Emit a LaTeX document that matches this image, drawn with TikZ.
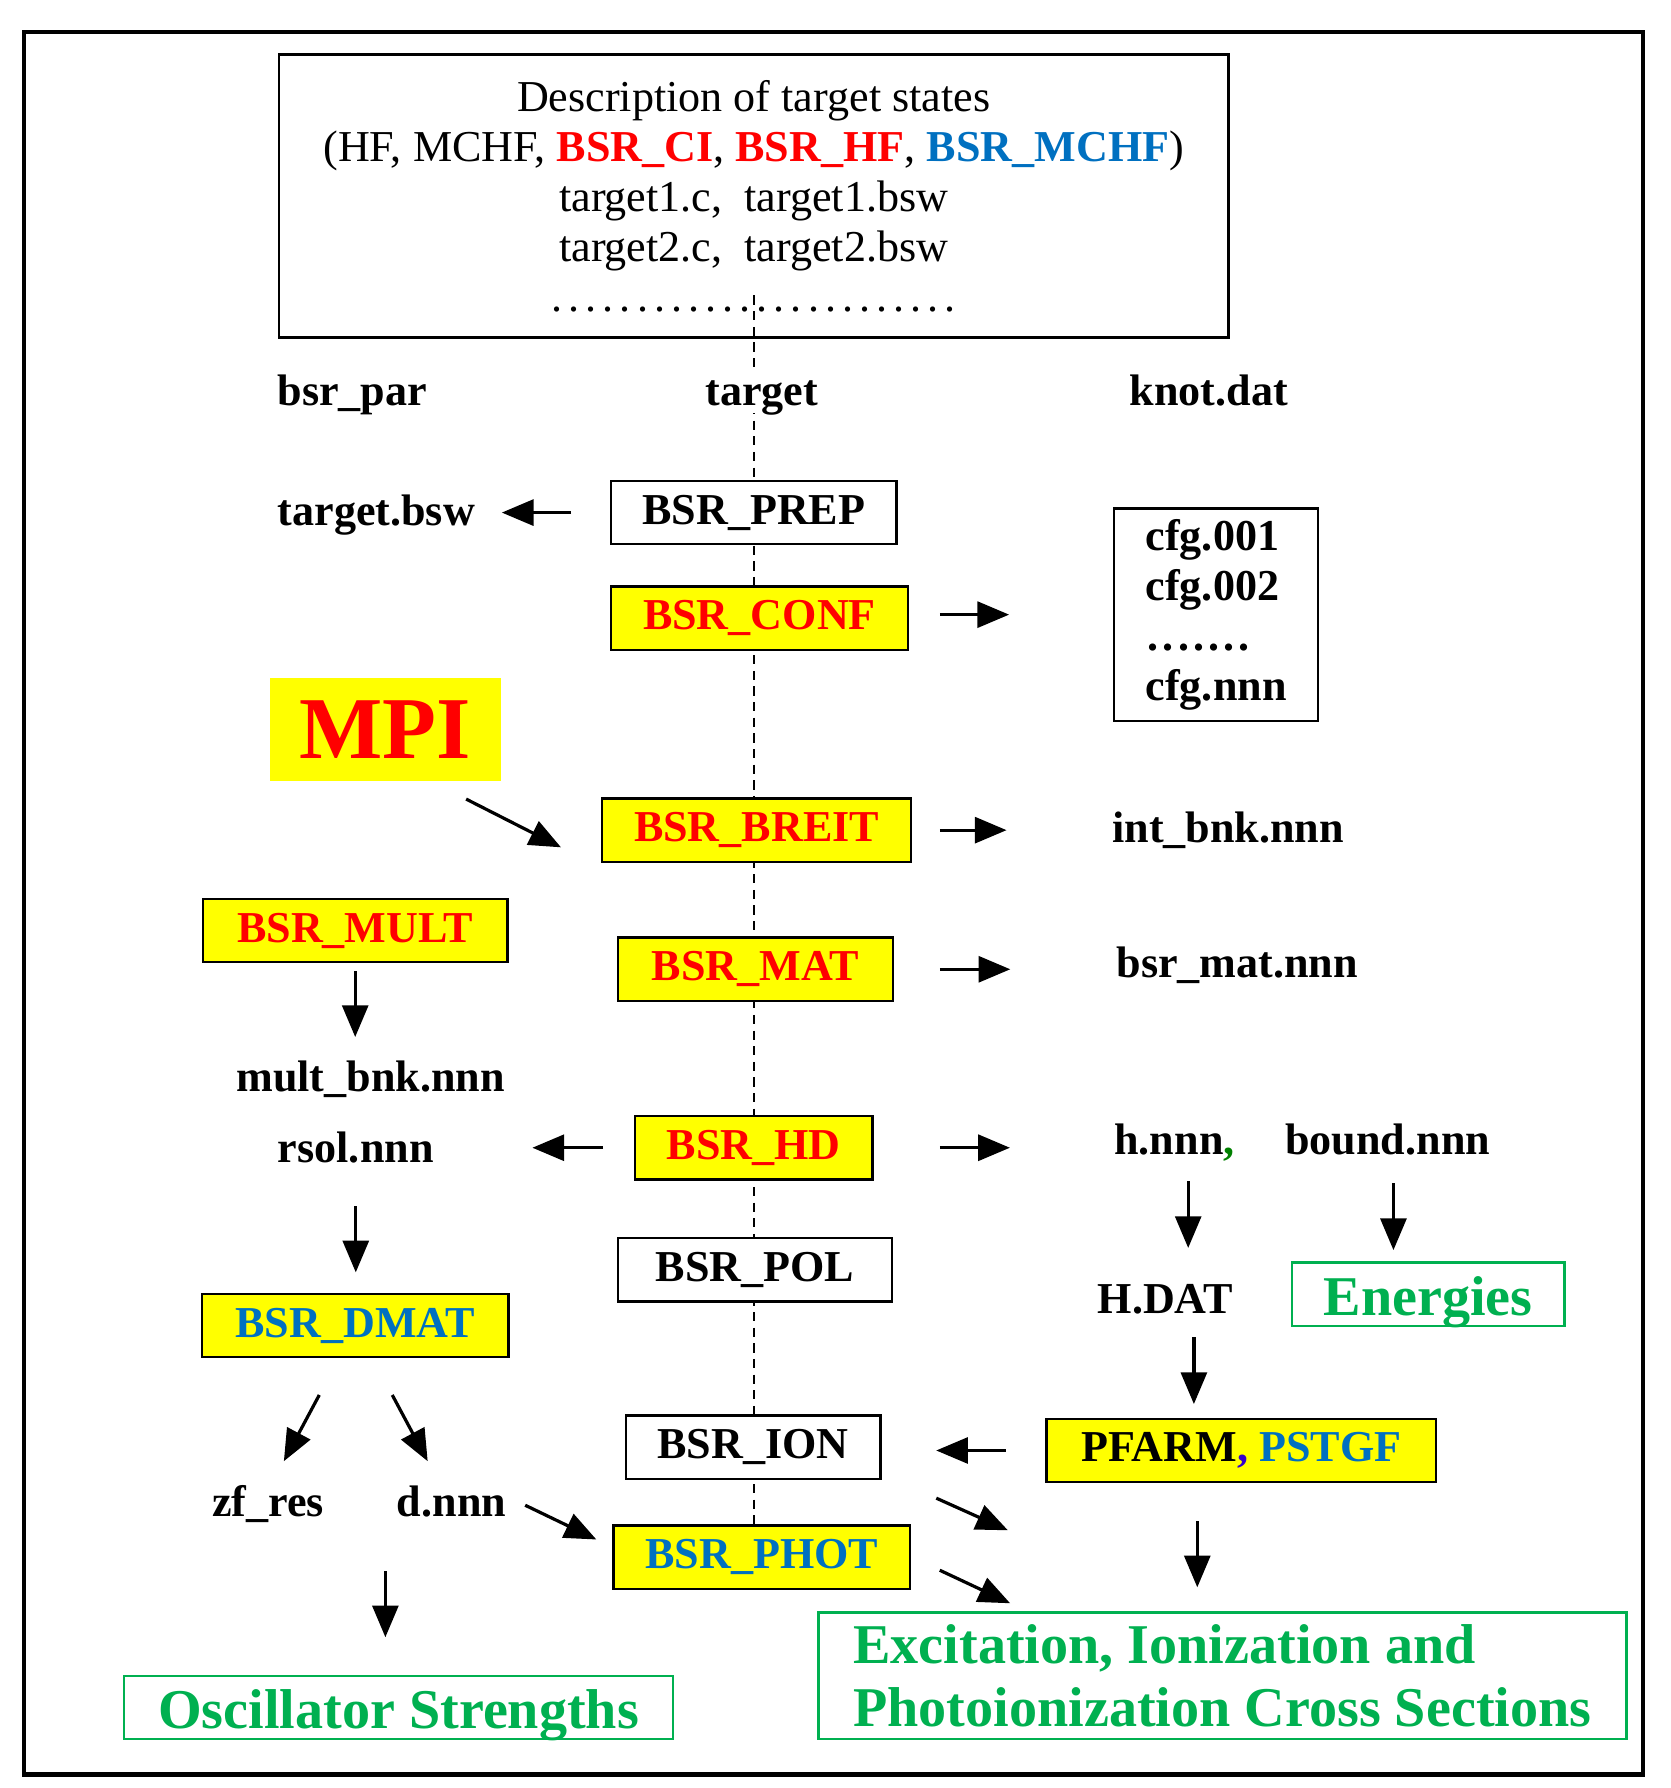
\documentclass[tikz,border=0pt]{standalone}
\usepackage{fontspec}
\setmainfont{Liberation Serif}
\usepackage{xcolor}
\usepackage{tikz}
\usetikzlibrary{shapes.geometric, arrows}
\usetikzlibrary{positioning}
\usetikzlibrary{backgrounds}
\definecolor{bsrred}{RGB}{255,0,0}
\definecolor{bsrblue}{RGB}{0,112,192}
\definecolor{resgreen}{RGB}{0,176,80}
\definecolor{commagreen}{RGB}{0,128,0}
\definecolor{commapurple}{RGB}{51,0,204}
\definecolor{boxyellow}{RGB}{255,255,0}
\newcommand{\boxfont}{\fontsize{11}{12.5}\selectfont}
\newcommand{\dotrun}[2]{\makebox[#1][l]{\xleaders\hbox to #2{\hss.\hss}\hfill}}
\tikzstyle{prog} = [rectangle, draw=black, line width=0.6pt, 
    fill=boxyellow, text=bsrred, font=\boxfont\bfseries, 
    minimum height=0.555cm, inner sep=0pt]
\tikzstyle{whitebox} = [prog, fill=white, text=black]
\tikzstyle{fname} = [font=\boxfont\bfseries, inner sep=0pt, 
    text height=0.27cm, text depth=0cm]
\tikzstyle{resbox} = [rectangle, draw=resgreen, line width=0.6pt, 
    text=resgreen, font=\fontsize{14}{15.6}\selectfont\bfseries, 
    minimum height=0.555cm, inner sep=0pt]
\tikzstyle{arrow} = [line width=0.8pt,->,>=triangle 45]
\tikzstyle{dashline} = [line width=0.45pt, dash pattern=on 2.3pt off 1.6pt]
\begin{document}
\begin{tikzpicture}[x=0.01cm, y=-0.01cm]
    \useasboundingbox (0,0) rectangle (1465,1568);
    \draw [line width=1.1pt] (21,28) rectangle (1441,1556);
    \node [rectangle, draw, line width=0.6pt, minimum width=8.32cm, 
        minimum height=2.48cm, align=center, font=\boxfont, inner sep=0pt] (desc) at (661,172) 
        {Description of target states\\
        (HF, MCHF, \textcolor{bsrred}{\textbf{BSR\_CI}}, \textcolor{bsrred}{\textbf{BSR\_HF}}, \textcolor{bsrblue}{\textbf{BSR\_MCHF}})\\
        target1.c,\ \ target1.bsw\\
        target2.c,\ \ target2.bsw\\
        \dotrun{3.6cm}{0.145cm}};
    \node [fname] (bsrpar) at (309,342) {bsr\_par};
    \node [fname, fill=white, inner sep=2pt] (target) at (668,342) {target};
    \node [fname] (knot) at (1060,342) {knot.dat};
    \node [fname] (tbsw) at (330,447) {target.bsw};
    \node [whitebox, minimum width=2.5cm] (prep) at (661,449.5) {BSR\_PREP};
    \node [prog, minimum width=2.6cm] (conf) at (666,542) {BSR\_CONF};
    \node [rectangle, draw, line width=0.6pt, minimum width=1.79cm, minimum height=1.86cm, 
        align=left, font=\boxfont\bfseries, inner sep=0pt] (cfg) at (1066.5,539) 
        {cfg.001\\cfg.002\\\dotrun{0.93cm}{0.13cm}\\cfg.nnn};
    \node [rectangle, fill=boxyellow, minimum width=2.02cm, minimum height=0.9cm, text=bsrred, 
        font=\fontsize{22}{24}\selectfont\bfseries, inner sep=0pt] (mpi) at (338,640) {MPI};
    \node [prog, minimum width=2.71cm] (breit) at (663.5,728) {BSR\_BREIT};
    \node [fname] (intbnk) at (1077,725) {int\_bnk.nnn};
    \node [prog, minimum width=2.67cm] (mult) at (311.5,816) {BSR\_MULT};
    \node [prog, minimum width=2.41cm] (mat) at (662.5,850) {BSR\_MAT};
    \node [fname] (bsrmat) at (1085,844) {bsr\_mat.nnn};
    \node [fname] (multbnk) at (325,944) {mult\_bnk.nnn};
    \node [fname] (rsol) at (312,1006) {rsol.nnn};
    \node [prog, minimum width=2.08cm] (hd) at (661,1006.5) {BSR\_HD};
    \node [fname] (hnnn) at (1030,999) {h.nnn\textcolor{commagreen}{,}};
    \node [fname] (bound) at (1217,999) {bound.nnn};
    \node [whitebox, minimum width=2.4cm] (pol) at (662,1113.5) {BSR\_POL};
    \node [fname] (hdat) at (1022,1138) {H.DAT};
    \node [resbox, minimum width=2.39cm, text height=0.37cm, text depth=0cm] (energies) at (1252.5,1135) {Energies};
    \node [prog, minimum width=2.69cm, text=bsrblue] (dmat) at (311.5,1162.5) {BSR\_DMAT};
    \node [whitebox, minimum width=2.23cm] (ion) at (660.5,1269) {BSR\_ION};
    \node [prog, minimum width=3.41cm, text=black] (pfarm) at (1088.5,1272) 
        {PFARM\textcolor{commapurple}{,} \textcolor{bsrblue}{PSTGF}};
    \node [fname] (zfres) at (235,1316) {zf\_res};
    \node [fname] (dnnn) at (396,1316) {d.nnn};
    \node [prog, minimum width=2.6cm, text=bsrblue] (phot) at (668,1365.5) {BSR\_PHOT};
    \node [resbox, minimum width=4.81cm, text height=0.37cm, text depth=0cm] (osc) at (349.5,1497.5) {Oscillator Strengths};
    \node [resbox, minimum width=7.08cm, minimum height=1.11cm, align=left] (excit) at (1072,1469.5) 
        {Excitation, Ionization and\\Photoionization Cross Sections};
    \begin{scope}[on background layer]
        \draw [dashline] ([yshift=0.38cm]desc.south) -- (desc.south |- phot.north);
    \end{scope}
    \draw [arrow, shorten <=0.34cm, shorten >=0.23cm] (prep.west) -- (tbsw.east |- prep.west);
    \draw [arrow, shorten <=0.27cm, shorten >=0.91cm] ([yshift=0.03cm]conf.east) -- ([yshift=0.03cm]cfg.west |- conf.east);
    \draw [arrow] ([shift={(-31,15)}]mpi.south east) -- ([shift={(-35,15)}]breit.west);
    \draw [arrow, shorten <=0.24cm, shorten >=0.92cm] (breit.east) -- (intbnk.west |- breit.east);
    \draw [arrow, shorten <=0.07cm, shorten >=0.205cm] (mult.south) -- (mult.south |- multbnk.north);
    \draw [arrow, shorten <=0.40cm, shorten >=0.925cm] (mat.east) -- (bsrmat.west |- mat.east);
    \draw [arrow, shorten <=0.27cm, shorten >=0.86cm] (hd.west) -- (rsol.east |- hd.west);
    \draw [arrow, shorten <=0.58cm, shorten >=0.91cm] (hd.east) -- (hnnn.west |- hd.east);
    \draw [arrow, shorten <=0.375cm, shorten >=0.18cm] (rsol.south) -- (rsol.south |- dmat.north);
    \draw [arrow, shorten <=0.225cm, shorten >=0.295cm] ([xshift=0.12cm]hnnn.south) 
        -- ([xshift=0.12cm]hnnn.south |- hdat.north);
    \draw [arrow, shorten <=0.245cm, shorten >=0.10cm] ([xshift=0.05cm]bound.south) 
        -- ([xshift=0.05cm]bound.south |- energies.north);
    \draw [arrow, shorten <=0.205cm, shorten >=0.12cm] ([xshift=0.25cm]hdat.south) 
        -- ([xshift=0.25cm]hdat.south |- pfarm.north);
    \draw [arrow] ([shift={(-31.5,32)}]dmat.south) -- ([shift={(14,-20.5)}]zfres.north);
    \draw [arrow] ([shift={(32.5,32)}]dmat.south) -- ([shift={(-21,-20.5)}]dnnn.north);
    \draw [arrow, shorten <=0.35cm, shorten >=0.48cm] (pfarm.west) -- (ion.east |- pfarm.west);
    \draw [arrow] ([shift={(16,4)}]dnnn.east) -- ([shift={(-14,-15.5)}]phot.west);
    \draw [arrow] ([shift={(48,16)}]ion.south east) -- ([shift={(167,-71)}]excit.north west);
    \draw [arrow, shorten <=0.33cm, shorten >=0.21cm] ([xshift=-0.385cm]pfarm.south) 
        -- ([xshift=-0.385cm]pfarm.south |- excit.north);
    \draw [arrow] ([shift={(25,11.5)}]phot.east) -- ([shift={(169,-7)}]excit.north west);
    \draw [arrow, shorten <=0.475cm, shorten >=0.33cm] ([xshift=-0.58cm]dnnn.south) 
        -- ([xshift=-0.58cm]dnnn.south |- osc.north);
\end{tikzpicture}
\end{document}
